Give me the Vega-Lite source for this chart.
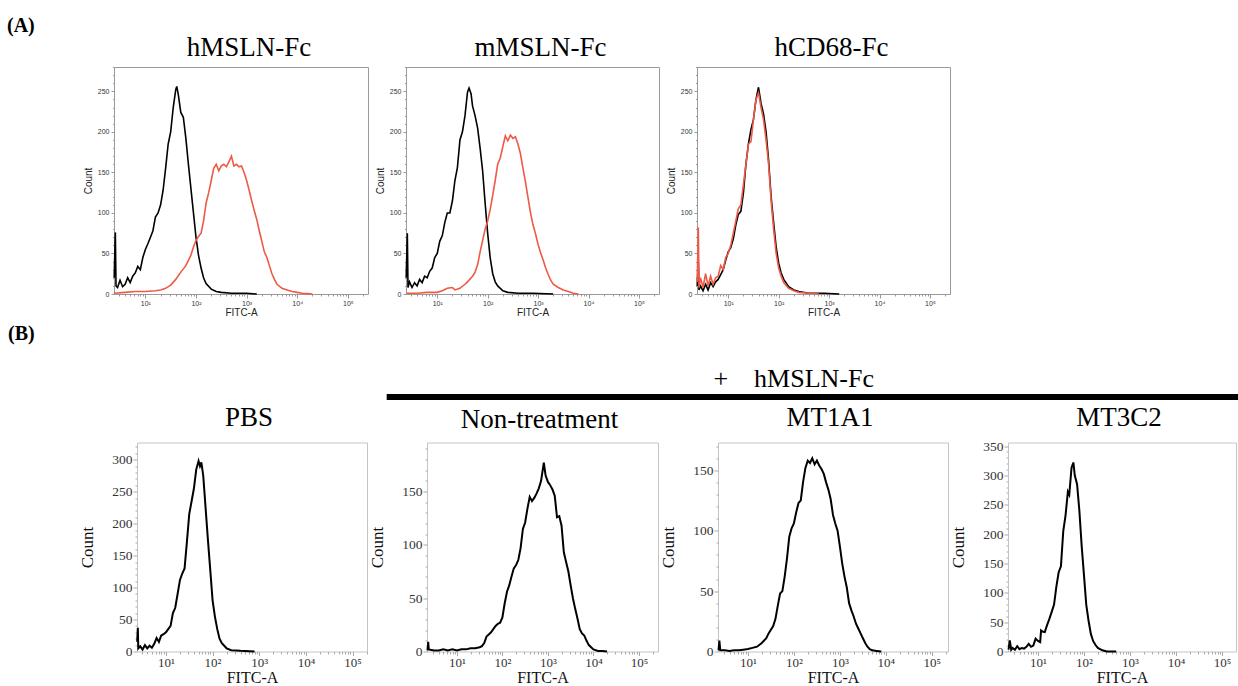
{
  "$schema": "https://vega.github.io/schema/vega-lite/v6.json",
  "background": "white",
  "padding": {"left": 7, "top": 15, "right": 0, "bottom": 0},
  "config": {
    "title": {"font": "Liberation Serif", "fontWeight": "normal", "color": "black"},
    "axis": {"grid": false, "domain": false}
  },
  "datasets": {
    "A1": [
      {"sample":"control","fitc":2.42,"count":20},{"sample":"control","fitc":2.55,"count":76},{"sample":"control","fitc":2.63,"count":10},{"sample":"control","fitc":2.82,"count":8},{"sample":"control","fitc":3.16,"count":17},{"sample":"control","fitc":3.55,"count":9},{"sample":"control","fitc":3.98,"count":12},{"sample":"control","fitc":4.47,"count":20},{"sample":"control","fitc":5.01,"count":14},{"sample":"control","fitc":5.62,"count":22},{"sample":"control","fitc":6.31,"count":26},{"sample":"control","fitc":7.08,"count":34},{"sample":"control","fitc":7.94,"count":30},{"sample":"control","fitc":8.91,"count":45},{"sample":"control","fitc":10,"count":55},{"sample":"control","fitc":11.2,"count":62},{"sample":"control","fitc":12.6,"count":70},{"sample":"control","fitc":14.1,"count":78},{"sample":"control","fitc":15.8,"count":95},{"sample":"control","fitc":17.8,"count":100},{"sample":"control","fitc":20,"count":110},{"sample":"control","fitc":22.4,"count":128},{"sample":"control","fitc":25.1,"count":155},{"sample":"control","fitc":28.2,"count":185},{"sample":"control","fitc":31.6,"count":200},{"sample":"control","fitc":35.5,"count":230},{"sample":"control","fitc":39.8,"count":252},{"sample":"control","fitc":41.7,"count":256},{"sample":"control","fitc":44.7,"count":246},{"sample":"control","fitc":50.1,"count":224},{"sample":"control","fitc":56.2,"count":218},{"sample":"control","fitc":63.1,"count":192},{"sample":"control","fitc":70.8,"count":160},{"sample":"control","fitc":79.4,"count":130},{"sample":"control","fitc":89.1,"count":100},{"sample":"control","fitc":100,"count":70},{"sample":"control","fitc":112,"count":48},{"sample":"control","fitc":126,"count":32},{"sample":"control","fitc":141,"count":20},{"sample":"control","fitc":158,"count":13},{"sample":"control","fitc":200,"count":6},{"sample":"control","fitc":251,"count":3},{"sample":"control","fitc":316,"count":2},{"sample":"control","fitc":501,"count":1},{"sample":"control","fitc":1000,"count":1},{"sample":"control","fitc":1585,"count":0},
      {"sample":"binding","fitc":2.42,"count":1},{"sample":"binding","fitc":3.98,"count":2},{"sample":"binding","fitc":6.31,"count":3},{"sample":"binding","fitc":10,"count":3},{"sample":"binding","fitc":15.8,"count":4},{"sample":"binding","fitc":20,"count":5},{"sample":"binding","fitc":25.1,"count":7},{"sample":"binding","fitc":31.6,"count":11},{"sample":"binding","fitc":39.8,"count":18},{"sample":"binding","fitc":50.1,"count":27},{"sample":"binding","fitc":63.1,"count":35},{"sample":"binding","fitc":79.4,"count":48},{"sample":"binding","fitc":89.1,"count":58},{"sample":"binding","fitc":100,"count":66},{"sample":"binding","fitc":112,"count":71},{"sample":"binding","fitc":126,"count":75},{"sample":"binding","fitc":141,"count":90},{"sample":"binding","fitc":158,"count":112},{"sample":"binding","fitc":178,"count":125},{"sample":"binding","fitc":200,"count":140},{"sample":"binding","fitc":224,"count":155},{"sample":"binding","fitc":251,"count":160},{"sample":"binding","fitc":282,"count":152},{"sample":"binding","fitc":316,"count":158},{"sample":"binding","fitc":355,"count":160},{"sample":"binding","fitc":398,"count":157},{"sample":"binding","fitc":447,"count":163},{"sample":"binding","fitc":501,"count":170},{"sample":"binding","fitc":562,"count":158},{"sample":"binding","fitc":631,"count":160},{"sample":"binding","fitc":708,"count":157},{"sample":"binding","fitc":794,"count":158},{"sample":"binding","fitc":891,"count":150},{"sample":"binding","fitc":1000,"count":140},{"sample":"binding","fitc":1122,"count":128},{"sample":"binding","fitc":1259,"count":115},{"sample":"binding","fitc":1413,"count":103},{"sample":"binding","fitc":1585,"count":92},{"sample":"binding","fitc":1778,"count":78},{"sample":"binding","fitc":1995,"count":65},{"sample":"binding","fitc":2239,"count":52},{"sample":"binding","fitc":2512,"count":45},{"sample":"binding","fitc":2818,"count":35},{"sample":"binding","fitc":3162,"count":25},{"sample":"binding","fitc":3548,"count":18},{"sample":"binding","fitc":3981,"count":12},{"sample":"binding","fitc":5012,"count":7},{"sample":"binding","fitc":6310,"count":5},{"sample":"binding","fitc":7943,"count":3},{"sample":"binding","fitc":10000,"count":2},{"sample":"binding","fitc":12589,"count":1},{"sample":"binding","fitc":15849,"count":0.5},{"sample":"binding","fitc":19953,"count":0}
    ],
    "A2": [
      {"sample":"control","fitc":2.42,"count":20},{"sample":"control","fitc":2.55,"count":75},{"sample":"control","fitc":2.63,"count":8},{"sample":"control","fitc":2.82,"count":15},{"sample":"control","fitc":3.16,"count":8},{"sample":"control","fitc":3.55,"count":14},{"sample":"control","fitc":3.98,"count":10},{"sample":"control","fitc":4.47,"count":18},{"sample":"control","fitc":5.01,"count":14},{"sample":"control","fitc":5.62,"count":22},{"sample":"control","fitc":6.31,"count":20},{"sample":"control","fitc":7.08,"count":28},{"sample":"control","fitc":7.94,"count":32},{"sample":"control","fitc":8.91,"count":45},{"sample":"control","fitc":10,"count":50},{"sample":"control","fitc":11.2,"count":65},{"sample":"control","fitc":12.6,"count":72},{"sample":"control","fitc":14.1,"count":88},{"sample":"control","fitc":15.8,"count":100},{"sample":"control","fitc":17.8,"count":100},{"sample":"control","fitc":20,"count":115},{"sample":"control","fitc":22.4,"count":140},{"sample":"control","fitc":25.1,"count":156},{"sample":"control","fitc":28.2,"count":190},{"sample":"control","fitc":31.6,"count":200},{"sample":"control","fitc":35.5,"count":220},{"sample":"control","fitc":39.8,"count":249},{"sample":"control","fitc":42.7,"count":254},{"sample":"control","fitc":46.8,"count":247},{"sample":"control","fitc":50.1,"count":232},{"sample":"control","fitc":56.2,"count":220},{"sample":"control","fitc":63.1,"count":205},{"sample":"control","fitc":70.8,"count":180},{"sample":"control","fitc":79.4,"count":152},{"sample":"control","fitc":89.1,"count":112},{"sample":"control","fitc":100,"count":75},{"sample":"control","fitc":112,"count":45},{"sample":"control","fitc":126,"count":25},{"sample":"control","fitc":141,"count":15},{"sample":"control","fitc":158,"count":10},{"sample":"control","fitc":200,"count":4},{"sample":"control","fitc":251,"count":2},{"sample":"control","fitc":398,"count":1},{"sample":"control","fitc":794,"count":1},{"sample":"control","fitc":1995,"count":0},
      {"sample":"binding","fitc":2.42,"count":1},{"sample":"binding","fitc":3.98,"count":1},{"sample":"binding","fitc":6.31,"count":2},{"sample":"binding","fitc":10,"count":2},{"sample":"binding","fitc":12.6,"count":4},{"sample":"binding","fitc":15.8,"count":7},{"sample":"binding","fitc":20,"count":8},{"sample":"binding","fitc":22.4,"count":5},{"sample":"binding","fitc":28.2,"count":7},{"sample":"binding","fitc":35.5,"count":12},{"sample":"binding","fitc":39.8,"count":15},{"sample":"binding","fitc":50.1,"count":22},{"sample":"binding","fitc":56.2,"count":27},{"sample":"binding","fitc":63.1,"count":36},{"sample":"binding","fitc":70.8,"count":52},{"sample":"binding","fitc":79.4,"count":66},{"sample":"binding","fitc":89.1,"count":80},{"sample":"binding","fitc":100,"count":90},{"sample":"binding","fitc":112,"count":104},{"sample":"binding","fitc":126,"count":122},{"sample":"binding","fitc":141,"count":140},{"sample":"binding","fitc":158,"count":160},{"sample":"binding","fitc":178,"count":168},{"sample":"binding","fitc":200,"count":182},{"sample":"binding","fitc":224,"count":195},{"sample":"binding","fitc":251,"count":189},{"sample":"binding","fitc":282,"count":196},{"sample":"binding","fitc":316,"count":192},{"sample":"binding","fitc":355,"count":194},{"sample":"binding","fitc":398,"count":185},{"sample":"binding","fitc":447,"count":173},{"sample":"binding","fitc":501,"count":155},{"sample":"binding","fitc":562,"count":138},{"sample":"binding","fitc":631,"count":119},{"sample":"binding","fitc":708,"count":100},{"sample":"binding","fitc":794,"count":85},{"sample":"binding","fitc":891,"count":74},{"sample":"binding","fitc":1000,"count":61},{"sample":"binding","fitc":1122,"count":51},{"sample":"binding","fitc":1259,"count":42},{"sample":"binding","fitc":1413,"count":32},{"sample":"binding","fitc":1585,"count":24},{"sample":"binding","fitc":1778,"count":17},{"sample":"binding","fitc":1995,"count":12},{"sample":"binding","fitc":2512,"count":8},{"sample":"binding","fitc":3162,"count":5},{"sample":"binding","fitc":3981,"count":3},{"sample":"binding","fitc":5012,"count":1},{"sample":"binding","fitc":6310,"count":0}
    ],
    "A3": [
      {"sample":"control","fitc":2.42,"count":10},{"sample":"control","fitc":2.55,"count":40},{"sample":"control","fitc":2.63,"count":5},{"sample":"control","fitc":2.82,"count":10},{"sample":"control","fitc":3.16,"count":4},{"sample":"control","fitc":3.55,"count":12},{"sample":"control","fitc":3.98,"count":5},{"sample":"control","fitc":4.47,"count":14},{"sample":"control","fitc":5.01,"count":9},{"sample":"control","fitc":5.62,"count":15},{"sample":"control","fitc":6.31,"count":18},{"sample":"control","fitc":7.08,"count":24},{"sample":"control","fitc":7.94,"count":30},{"sample":"control","fitc":8.91,"count":42},{"sample":"control","fitc":10,"count":52},{"sample":"control","fitc":11.2,"count":57},{"sample":"control","fitc":12.6,"count":68},{"sample":"control","fitc":14.1,"count":85},{"sample":"control","fitc":15.8,"count":98},{"sample":"control","fitc":17.8,"count":102},{"sample":"control","fitc":20,"count":125},{"sample":"control","fitc":22.4,"count":160},{"sample":"control","fitc":25.1,"count":185},{"sample":"control","fitc":28.2,"count":203},{"sample":"control","fitc":31.6,"count":215},{"sample":"control","fitc":35.5,"count":240},{"sample":"control","fitc":39.8,"count":255},{"sample":"control","fitc":44.7,"count":235},{"sample":"control","fitc":50.1,"count":222},{"sample":"control","fitc":56.2,"count":200},{"sample":"control","fitc":63.1,"count":165},{"sample":"control","fitc":70.8,"count":120},{"sample":"control","fitc":79.4,"count":88},{"sample":"control","fitc":89.1,"count":58},{"sample":"control","fitc":100,"count":38},{"sample":"control","fitc":112,"count":26},{"sample":"control","fitc":126,"count":18},{"sample":"control","fitc":158,"count":9},{"sample":"control","fitc":200,"count":5},{"sample":"control","fitc":251,"count":3},{"sample":"control","fitc":398,"count":1},{"sample":"control","fitc":794,"count":1},{"sample":"control","fitc":1585,"count":0},
      {"sample":"binding","fitc":2.42,"count":15},{"sample":"binding","fitc":2.55,"count":82},{"sample":"binding","fitc":2.63,"count":8},{"sample":"binding","fitc":2.82,"count":20},{"sample":"binding","fitc":3.16,"count":8},{"sample":"binding","fitc":3.55,"count":25},{"sample":"binding","fitc":3.98,"count":10},{"sample":"binding","fitc":4.47,"count":22},{"sample":"binding","fitc":5.01,"count":12},{"sample":"binding","fitc":5.62,"count":20},{"sample":"binding","fitc":6.31,"count":22},{"sample":"binding","fitc":7.08,"count":35},{"sample":"binding","fitc":7.94,"count":30},{"sample":"binding","fitc":8.91,"count":45},{"sample":"binding","fitc":10,"count":50},{"sample":"binding","fitc":11.2,"count":60},{"sample":"binding","fitc":12.6,"count":75},{"sample":"binding","fitc":14.1,"count":90},{"sample":"binding","fitc":15.8,"count":105},{"sample":"binding","fitc":17.8,"count":110},{"sample":"binding","fitc":20,"count":135},{"sample":"binding","fitc":22.4,"count":160},{"sample":"binding","fitc":25.1,"count":185},{"sample":"binding","fitc":28.2,"count":188},{"sample":"binding","fitc":31.6,"count":215},{"sample":"binding","fitc":35.5,"count":240},{"sample":"binding","fitc":39.8,"count":248},{"sample":"binding","fitc":44.7,"count":230},{"sample":"binding","fitc":50.1,"count":215},{"sample":"binding","fitc":56.2,"count":190},{"sample":"binding","fitc":63.1,"count":160},{"sample":"binding","fitc":70.8,"count":115},{"sample":"binding","fitc":79.4,"count":80},{"sample":"binding","fitc":89.1,"count":50},{"sample":"binding","fitc":100,"count":32},{"sample":"binding","fitc":112,"count":22},{"sample":"binding","fitc":126,"count":14},{"sample":"binding","fitc":158,"count":7},{"sample":"binding","fitc":200,"count":4},{"sample":"binding","fitc":251,"count":2},{"sample":"binding","fitc":398,"count":1},{"sample":"binding","fitc":631,"count":0}
    ],
    "B1": [
      {"fitc":2.42,"count":15},{"fitc":2.5,"count":37},{"fitc":2.56,"count":5},{"fitc":2.82,"count":8},{"fitc":3.16,"count":3},{"fitc":3.55,"count":10},{"fitc":3.98,"count":5},{"fitc":4.47,"count":9},{"fitc":5.01,"count":6},{"fitc":5.62,"count":12},{"fitc":6.31,"count":21},{"fitc":7.08,"count":15},{"fitc":7.94,"count":25},{"fitc":8.91,"count":27},{"fitc":10,"count":30},{"fitc":11.2,"count":35},{"fitc":12.6,"count":40},{"fitc":14.1,"count":60},{"fitc":15.8,"count":68},{"fitc":17.8,"count":90},{"fitc":20,"count":112},{"fitc":22.4,"count":122},{"fitc":25.1,"count":130},{"fitc":28.2,"count":172},{"fitc":31.6,"count":215},{"fitc":35.5,"count":235},{"fitc":39.8,"count":255},{"fitc":44.7,"count":285},{"fitc":50.1,"count":298},{"fitc":53.7,"count":290},{"fitc":57.5,"count":296},{"fitc":63.1,"count":275},{"fitc":70.8,"count":225},{"fitc":79.4,"count":175},{"fitc":89.1,"count":128},{"fitc":100,"count":80},{"fitc":112,"count":55},{"fitc":126,"count":35},{"fitc":141,"count":20},{"fitc":158,"count":13},{"fitc":200,"count":5},{"fitc":251,"count":2},{"fitc":398,"count":1},{"fitc":794,"count":0}
    ],
    "B2": [
      {"fitc":2.25,"count":1},{"fitc":2.34,"count":9},{"fitc":2.4,"count":2},{"fitc":3.16,"count":1},{"fitc":3.98,"count":1},{"fitc":5.01,"count":2},{"fitc":6.31,"count":1},{"fitc":7.94,"count":2},{"fitc":10,"count":1},{"fitc":12.6,"count":2},{"fitc":15.8,"count":2},{"fitc":20,"count":3},{"fitc":25.1,"count":3},{"fitc":31.6,"count":4},{"fitc":35.5,"count":5},{"fitc":39.8,"count":8},{"fitc":44.7,"count":14},{"fitc":50.1,"count":16},{"fitc":56.2,"count":18},{"fitc":63.1,"count":21},{"fitc":70.8,"count":24},{"fitc":79.4,"count":26},{"fitc":89.1,"count":27},{"fitc":100,"count":32},{"fitc":112,"count":45},{"fitc":126,"count":56},{"fitc":141,"count":62},{"fitc":158,"count":70},{"fitc":178,"count":78},{"fitc":200,"count":81},{"fitc":224,"count":86},{"fitc":251,"count":97},{"fitc":282,"count":115},{"fitc":316,"count":121},{"fitc":355,"count":134},{"fitc":398,"count":145},{"fitc":447,"count":141},{"fitc":501,"count":144},{"fitc":562,"count":148},{"fitc":631,"count":153},{"fitc":708,"count":160},{"fitc":813,"count":177},{"fitc":891,"count":165},{"fitc":1000,"count":159},{"fitc":1122,"count":156},{"fitc":1259,"count":152},{"fitc":1413,"count":146},{"fitc":1585,"count":126},{"fitc":1778,"count":127},{"fitc":1995,"count":118},{"fitc":2239,"count":93},{"fitc":2512,"count":84},{"fitc":2818,"count":75},{"fitc":3162,"count":62},{"fitc":3548,"count":50},{"fitc":3981,"count":40},{"fitc":4467,"count":31},{"fitc":5012,"count":21},{"fitc":5623,"count":17},{"fitc":6310,"count":15},{"fitc":7079,"count":10},{"fitc":7943,"count":6},{"fitc":8913,"count":4},{"fitc":10000,"count":2},{"fitc":12589,"count":0.5},{"fitc":15849,"count":0.5},{"fitc":19953,"count":0}
    ],
    "B3": [
      {"fitc":2.3,"count":1},{"fitc":2.4,"count":9},{"fitc":2.51,"count":1},{"fitc":3.16,"count":1},{"fitc":3.98,"count":0.5},{"fitc":5.01,"count":1},{"fitc":6.31,"count":1},{"fitc":7.94,"count":1.5},{"fitc":10,"count":2},{"fitc":12.6,"count":3},{"fitc":15.8,"count":4},{"fitc":20,"count":7},{"fitc":25.1,"count":11},{"fitc":28.2,"count":15},{"fitc":31.6,"count":18},{"fitc":35.5,"count":21},{"fitc":39.8,"count":27},{"fitc":44.7,"count":38},{"fitc":50.1,"count":48},{"fitc":56.2,"count":50},{"fitc":63.1,"count":62},{"fitc":70.8,"count":77},{"fitc":79.4,"count":95},{"fitc":89.1,"count":102},{"fitc":100,"count":106},{"fitc":112,"count":115},{"fitc":126,"count":123},{"fitc":141,"count":125},{"fitc":158,"count":140},{"fitc":178,"count":152},{"fitc":200,"count":158},{"fitc":224,"count":156},{"fitc":251,"count":160},{"fitc":282,"count":155},{"fitc":316,"count":158},{"fitc":355,"count":154},{"fitc":398,"count":151},{"fitc":447,"count":147},{"fitc":501,"count":140},{"fitc":562,"count":134},{"fitc":631,"count":126},{"fitc":708,"count":113},{"fitc":794,"count":106},{"fitc":891,"count":100},{"fitc":1000,"count":87},{"fitc":1122,"count":73},{"fitc":1259,"count":62},{"fitc":1413,"count":53},{"fitc":1585,"count":40},{"fitc":1778,"count":34},{"fitc":1995,"count":29},{"fitc":2239,"count":23},{"fitc":2512,"count":19},{"fitc":2818,"count":15},{"fitc":3162,"count":11},{"fitc":3548,"count":7},{"fitc":3981,"count":4},{"fitc":4467,"count":2},{"fitc":5012,"count":1},{"fitc":6310,"count":0.5},{"fitc":7943,"count":0}
    ],
    "B4": [
      {"fitc":2.3,"count":3},{"fitc":2.45,"count":19},{"fitc":2.63,"count":3},{"fitc":2.82,"count":6},{"fitc":3.16,"count":3},{"fitc":3.55,"count":9},{"fitc":3.98,"count":4},{"fitc":4.47,"count":6},{"fitc":5.01,"count":5},{"fitc":5.62,"count":8},{"fitc":6.31,"count":13},{"fitc":7.08,"count":8},{"fitc":7.94,"count":10},{"fitc":8.91,"count":22},{"fitc":10,"count":18},{"fitc":11.2,"count":16},{"fitc":11.7,"count":36},{"fitc":12.6,"count":34},{"fitc":14.1,"count":33},{"fitc":15.8,"count":45},{"fitc":17.8,"count":56},{"fitc":20,"count":68},{"fitc":22.4,"count":80},{"fitc":25.1,"count":110},{"fitc":28.2,"count":135},{"fitc":31.6,"count":145},{"fitc":35.5,"count":205},{"fitc":39.8,"count":232},{"fitc":44.7,"count":272},{"fitc":47.9,"count":267},{"fitc":53.7,"count":313},{"fitc":58.9,"count":322},{"fitc":63.1,"count":300},{"fitc":70.8,"count":285},{"fitc":79.4,"count":240},{"fitc":89.1,"count":180},{"fitc":100,"count":130},{"fitc":112,"count":80},{"fitc":126,"count":52},{"fitc":141,"count":30},{"fitc":158,"count":18},{"fitc":178,"count":11},{"fitc":200,"count":6},{"fitc":251,"count":2},{"fitc":316,"count":0},{"fitc":501,"count":0}
    ]
  },
  "spacing": 6,
  "vconcat": [
    {
      "title": {"text": "(A)", "anchor": "start", "fontSize": 20, "fontWeight": "bold", "dx": -68, "offset": -2.5},
      "spacing": 38,
      "bounds": "flush",
      "hconcat": [
        {
          "width": 1, "height": 1,
          "view": {"stroke": null},
          "data": {"values": []},
          "mark": {"type": "point", "opacity": 0},
          "encoding": {}
        },
        {
          "width": 254, "height": 227,
          "view": {"stroke": "#9a9a9a"},
          "title": {"text": "hMSLN-Fc", "fontSize": 27, "frame": "group", "dx": 8, "offset": 1.5},
          "data": {"name": "A1"},
          "mark": {"type": "line", "strokeWidth": 1.6},
          "encoding": {
            "x": {"field": "fitc", "type": "quantitative", "scale": {"type": "log", "domain": [2.4, 250000], "nice": false},
              "axis": {"title": "FITC-A", "values": [3,4,5,6,7,8,9,10,20,30,40,50,60,70,80,90,100,200,300,400,500,600,700,800,900,1000,2000,3000,4000,5000,6000,7000,8000,9000,10000,20000,30000,40000,50000,60000,70000,80000,90000,100000,200000],
                "labelExpr": "datum.value == 10 ? '10\u00b9' : datum.value == 100 ? '10\u00b2' : datum.value == 1000 ? '10\u00b3' : datum.value == 10000 ? '10\u2074' : datum.value == 100000 ? '10\u2075' : ''",
                "labelOverlap": false, "labelFlush": false, "labelFont": "Liberation Sans", "labelFontSize": 7, "labelColor": "#333333", "labelPadding": 1,
                "tickColor": "#999999", "tickSize": {"condition": {"test": "indexof([10,100,1000,10000,100000], datum.value) >= 0", "value": 4}, "value": 2},
                "titleFont": "Liberation Sans", "titleFontSize": 10, "titleFontWeight": "normal", "titleColor": "#222222", "titlePadding": 1}},
            "y": {"field": "count", "type": "quantitative", "scale": {"domain": [0, 280], "nice": false},
              "axis": {"title": "Count", "values": [0,10,20,30,40,50,60,70,80,90,100,110,120,130,140,150,160,170,180,190,200,210,220,230,240,250,260,270,280],
                "labelExpr": "datum.value % 50 == 0 ? datum.label : ''", "labelOverlap": false, "labelFont": "Liberation Sans", "labelFontSize": 7, "labelColor": "#333333", "labelPadding": 2,
                "tickColor": "#999999", "tickSize": {"condition": {"test": "datum.value % 50 == 0", "value": 3}, "value": 1.5},
                "titleFont": "Liberation Sans", "titleFontSize": 10, "titleFontWeight": "normal", "titleColor": "#222222", "titlePadding": 4}},
            "color": {"field": "sample", "type": "nominal", "scale": {"domain": ["control", "binding"], "range": ["#000000", "#ee5a45"]}, "legend": null}
          }
        },
        {
          "width": 253, "height": 227,
          "view": {"stroke": "#9a9a9a"},
          "title": {"text": "mMSLN-Fc", "fontSize": 27, "frame": "group", "dx": 8, "offset": 1.5},
          "data": {"name": "A2"},
          "mark": {"type": "line", "strokeWidth": 1.6},
          "encoding": {
            "x": {"field": "fitc", "type": "quantitative", "scale": {"type": "log", "domain": [2.4, 250000], "nice": false},
              "axis": {"title": "FITC-A", "values": [3,4,5,6,7,8,9,10,20,30,40,50,60,70,80,90,100,200,300,400,500,600,700,800,900,1000,2000,3000,4000,5000,6000,7000,8000,9000,10000,20000,30000,40000,50000,60000,70000,80000,90000,100000,200000],
                "labelExpr": "datum.value == 10 ? '10\u00b9' : datum.value == 100 ? '10\u00b2' : datum.value == 1000 ? '10\u00b3' : datum.value == 10000 ? '10\u2074' : datum.value == 100000 ? '10\u2075' : ''",
                "labelOverlap": false, "labelFlush": false, "labelFont": "Liberation Sans", "labelFontSize": 7, "labelColor": "#333333", "labelPadding": 1,
                "tickColor": "#999999", "tickSize": {"condition": {"test": "indexof([10,100,1000,10000,100000], datum.value) >= 0", "value": 4}, "value": 2},
                "titleFont": "Liberation Sans", "titleFontSize": 10, "titleFontWeight": "normal", "titleColor": "#222222", "titlePadding": 1}},
            "y": {"field": "count", "type": "quantitative", "scale": {"domain": [0, 280], "nice": false},
              "axis": {"title": "Count", "values": [0,10,20,30,40,50,60,70,80,90,100,110,120,130,140,150,160,170,180,190,200,210,220,230,240,250,260,270,280],
                "labelExpr": "datum.value % 50 == 0 ? datum.label : ''", "labelOverlap": false, "labelFont": "Liberation Sans", "labelFontSize": 7, "labelColor": "#333333", "labelPadding": 2,
                "tickColor": "#999999", "tickSize": {"condition": {"test": "datum.value % 50 == 0", "value": 3}, "value": 1.5},
                "titleFont": "Liberation Sans", "titleFontSize": 10, "titleFontWeight": "normal", "titleColor": "#222222", "titlePadding": 4}},
            "color": {"field": "sample", "type": "nominal", "scale": {"domain": ["control", "binding"], "range": ["#000000", "#ee5a45"]}, "legend": null}
          }
        },
        {
          "width": 253, "height": 227,
          "view": {"stroke": "#9a9a9a"},
          "title": {"text": "hCD68-Fc", "fontSize": 27, "frame": "group", "dx": 8, "offset": 1.5},
          "data": {"name": "A3"},
          "mark": {"type": "line", "strokeWidth": 1.6},
          "encoding": {
            "x": {"field": "fitc", "type": "quantitative", "scale": {"type": "log", "domain": [2.4, 250000], "nice": false},
              "axis": {"title": "FITC-A", "values": [3,4,5,6,7,8,9,10,20,30,40,50,60,70,80,90,100,200,300,400,500,600,700,800,900,1000,2000,3000,4000,5000,6000,7000,8000,9000,10000,20000,30000,40000,50000,60000,70000,80000,90000,100000,200000],
                "labelExpr": "datum.value == 10 ? '10\u00b9' : datum.value == 100 ? '10\u00b2' : datum.value == 1000 ? '10\u00b3' : datum.value == 10000 ? '10\u2074' : datum.value == 100000 ? '10\u2075' : ''",
                "labelOverlap": false, "labelFlush": false, "labelFont": "Liberation Sans", "labelFontSize": 7, "labelColor": "#333333", "labelPadding": 1,
                "tickColor": "#999999", "tickSize": {"condition": {"test": "indexof([10,100,1000,10000,100000], datum.value) >= 0", "value": 4}, "value": 2},
                "titleFont": "Liberation Sans", "titleFontSize": 10, "titleFontWeight": "normal", "titleColor": "#222222", "titlePadding": 1}},
            "y": {"field": "count", "type": "quantitative", "scale": {"domain": [0, 280], "nice": false},
              "axis": {"title": "Count", "values": [0,10,20,30,40,50,60,70,80,90,100,110,120,130,140,150,160,170,180,190,200,210,220,230,240,250,260,270,280],
                "labelExpr": "datum.value % 50 == 0 ? datum.label : ''", "labelOverlap": false, "labelFont": "Liberation Sans", "labelFontSize": 7, "labelColor": "#333333", "labelPadding": 2,
                "tickColor": "#999999", "tickSize": {"condition": {"test": "datum.value % 50 == 0", "value": 3}, "value": 1.5},
                "titleFont": "Liberation Sans", "titleFontSize": 10, "titleFontWeight": "normal", "titleColor": "#222222", "titlePadding": 4}},
            "color": {"field": "sample", "type": "nominal", "scale": {"domain": ["control", "binding"], "range": ["#000000", "#ee5a45"]}, "legend": null}
          }
        }
      ]
    },
    {
      "title": {"text": "(B)", "anchor": "start", "fontSize": 20, "fontWeight": "bold", "dx": -67, "offset": 13},
      "spacing": 2.5,
      "vconcat": [
        {
          "width": 1163, "height": 40,
          "view": {"stroke": null},
          "data": {"values": [{"label": "+\u2003hMSLN-Fc"}]},
          "layer": [
            {
              "mark": {"type": "rule", "strokeWidth": 6, "color": "black"},
              "encoding": {
                "x": {"datum": 0.268, "type": "quantitative", "scale": {"domain": [0, 1], "nice": false, "zero": false}, "axis": null},
                "x2": {"datum": 1},
                "y": {"datum": 0, "type": "quantitative", "scale": {"domain": [0, 1], "nice": false}, "axis": null}
              }
            },
            {
              "mark": {"type": "text", "font": "Liberation Serif", "fontSize": 26, "baseline": "alphabetic", "align": "center", "color": "black"},
              "encoding": {
                "text": {"field": "label", "type": "nominal"},
                "x": {"datum": 0.618, "type": "quantitative"},
                "y": {"datum": 0.25, "type": "quantitative"}
              }
            }
          ]
        },
        {
          "spacing": 60,
          "bounds": "flush",
          "hconcat": [
            {
              "width": 2, "height": 1,
              "view": {"stroke": null},
              "data": {"values": []},
              "mark": {"type": "point", "opacity": 0},
              "encoding": {}
            },
            {
              "width": 230, "height": 209,
              "view": {"stroke": "#c4c4c4"},
              "title": {"text": "PBS", "fontSize": 27, "frame": "group", "dx": -3, "offset": 7.5},
              "data": {"name": "B1"},
              "mark": {"type": "line", "strokeWidth": 2, "color": "black"},
              "encoding": {
                "x": {"field": "fitc", "type": "quantitative", "scale": {"type": "log", "domain": [2.4, 204000], "nice": false},
                  "axis": {"title": "FITC-A", "values": [3,4,5,6,7,8,9,10,20,30,40,50,60,70,80,90,100,200,300,400,500,600,700,800,900,1000,2000,3000,4000,5000,6000,7000,8000,9000,10000,20000,30000,40000,50000,60000,70000,80000,90000,100000,200000],
                    "labelExpr": "datum.value == 10 ? '10\u00b9' : datum.value == 100 ? '10\u00b2' : datum.value == 1000 ? '10\u00b3' : datum.value == 10000 ? '10\u2074' : datum.value == 100000 ? '10\u2075' : ''",
                    "labelOverlap": false, "labelFlush": false, "labelFont": "Liberation Serif", "labelFontSize": 13, "labelColor": "#333333", "labelPadding": 1,
                    "tickColor": "#aaaaaa", "tickSize": {"condition": {"test": "indexof([10,100,1000,10000,100000], datum.value) >= 0", "value": 4}, "value": 2.5},
                    "titleFont": "Liberation Serif", "titleFontSize": 16, "titleFontWeight": "normal", "titleColor": "#111111", "titlePadding": 0}},
                "y": {"field": "count", "type": "quantitative", "scale": {"domain": [0, 327], "nice": false},
                  "axis": {"title": "Count", "values": [0,10,20,30,40,50,60,70,80,90,100,110,120,130,140,150,160,170,180,190,200,210,220,230,240,250,260,270,280,290,300,310,320],
                    "labelExpr": "datum.value % 50 == 0 ? datum.label : ''", "labelOverlap": false, "labelFont": "Liberation Serif", "labelFontSize": 13.5, "labelColor": "#333333", "labelPadding": 1,
                    "tickColor": "#aaaaaa", "tickSize": {"condition": {"test": "datum.value % 50 == 0", "value": 4}, "value": 2},
                    "titleFont": "Liberation Serif", "titleFontSize": 17, "titleFontWeight": "normal", "titleColor": "#111111", "titlePadding": 15}}
              }
            },
            {
              "width": 231, "height": 209,
              "view": {"stroke": "#c4c4c4"},
              "title": {"text": "Non-treatment", "fontSize": 27, "frame": "group", "dx": -3, "offset": 7.5},
              "data": {"name": "B2"},
              "mark": {"type": "line", "strokeWidth": 2, "color": "black"},
              "encoding": {
                "x": {"field": "fitc", "type": "quantitative", "scale": {"type": "log", "domain": [2.2, 263000], "nice": false},
                  "axis": {"title": "FITC-A", "values": [3,4,5,6,7,8,9,10,20,30,40,50,60,70,80,90,100,200,300,400,500,600,700,800,900,1000,2000,3000,4000,5000,6000,7000,8000,9000,10000,20000,30000,40000,50000,60000,70000,80000,90000,100000,200000],
                    "labelExpr": "datum.value == 10 ? '10\u00b9' : datum.value == 100 ? '10\u00b2' : datum.value == 1000 ? '10\u00b3' : datum.value == 10000 ? '10\u2074' : datum.value == 100000 ? '10\u2075' : ''",
                    "labelOverlap": false, "labelFlush": false, "labelFont": "Liberation Serif", "labelFontSize": 13, "labelColor": "#333333", "labelPadding": 1,
                    "tickColor": "#aaaaaa", "tickSize": {"condition": {"test": "indexof([10,100,1000,10000,100000], datum.value) >= 0", "value": 4}, "value": 2.5},
                    "titleFont": "Liberation Serif", "titleFontSize": 16, "titleFontWeight": "normal", "titleColor": "#111111", "titlePadding": 0}},
                "y": {"field": "count", "type": "quantitative", "scale": {"domain": [0, 196], "nice": false},
                  "axis": {"title": "Count", "values": [0,10,20,30,40,50,60,70,80,90,100,110,120,130,140,150,160,170,180,190],
                    "labelExpr": "datum.value % 50 == 0 ? datum.label : ''", "labelOverlap": false, "labelFont": "Liberation Serif", "labelFontSize": 13.5, "labelColor": "#333333", "labelPadding": 1,
                    "tickColor": "#aaaaaa", "tickSize": {"condition": {"test": "datum.value % 50 == 0", "value": 4}, "value": 2},
                    "titleFont": "Liberation Serif", "titleFontSize": 17, "titleFontWeight": "normal", "titleColor": "#111111", "titlePadding": 15}}
              }
            },
            {
              "width": 230, "height": 209,
              "view": {"stroke": "#c4c4c4"},
              "title": {"text": "MT1A1", "fontSize": 27, "frame": "group", "dx": -3, "offset": 7.5},
              "data": {"name": "B3"},
              "mark": {"type": "line", "strokeWidth": 2, "color": "black"},
              "encoding": {
                "x": {"field": "fitc", "type": "quantitative", "scale": {"type": "log", "domain": [2.24, 224000], "nice": false},
                  "axis": {"title": "FITC-A", "values": [3,4,5,6,7,8,9,10,20,30,40,50,60,70,80,90,100,200,300,400,500,600,700,800,900,1000,2000,3000,4000,5000,6000,7000,8000,9000,10000,20000,30000,40000,50000,60000,70000,80000,90000,100000,200000],
                    "labelExpr": "datum.value == 10 ? '10\u00b9' : datum.value == 100 ? '10\u00b2' : datum.value == 1000 ? '10\u00b3' : datum.value == 10000 ? '10\u2074' : datum.value == 100000 ? '10\u2075' : ''",
                    "labelOverlap": false, "labelFlush": false, "labelFont": "Liberation Serif", "labelFontSize": 13, "labelColor": "#333333", "labelPadding": 1,
                    "tickColor": "#aaaaaa", "tickSize": {"condition": {"test": "indexof([10,100,1000,10000,100000], datum.value) >= 0", "value": 4}, "value": 2.5},
                    "titleFont": "Liberation Serif", "titleFontSize": 16, "titleFontWeight": "normal", "titleColor": "#111111", "titlePadding": 0}},
                "y": {"field": "count", "type": "quantitative", "scale": {"domain": [0, 173], "nice": false},
                  "axis": {"title": "Count", "values": [0,10,20,30,40,50,60,70,80,90,100,110,120,130,140,150,160,170],
                    "labelExpr": "datum.value % 50 == 0 ? datum.label : ''", "labelOverlap": false, "labelFont": "Liberation Serif", "labelFontSize": 13.5, "labelColor": "#333333", "labelPadding": 1,
                    "tickColor": "#aaaaaa", "tickSize": {"condition": {"test": "datum.value % 50 == 0", "value": 4}, "value": 2},
                    "titleFont": "Liberation Serif", "titleFontSize": 17, "titleFontWeight": "normal", "titleColor": "#111111", "titlePadding": 15}}
              }
            },
            {
              "width": 228, "height": 209,
              "view": {"stroke": "#c4c4c4"},
              "title": {"text": "MT3C2", "fontSize": 27, "frame": "group", "dx": -3, "offset": 7.5},
              "data": {"name": "B4"},
              "mark": {"type": "line", "strokeWidth": 2, "color": "black"},
              "encoding": {
                "x": {"field": "fitc", "type": "quantitative", "scale": {"type": "log", "domain": [2.24, 200000], "nice": false},
                  "axis": {"title": "FITC-A", "values": [3,4,5,6,7,8,9,10,20,30,40,50,60,70,80,90,100,200,300,400,500,600,700,800,900,1000,2000,3000,4000,5000,6000,7000,8000,9000,10000,20000,30000,40000,50000,60000,70000,80000,90000,100000],
                    "labelExpr": "datum.value == 10 ? '10\u00b9' : datum.value == 100 ? '10\u00b2' : datum.value == 1000 ? '10\u00b3' : datum.value == 10000 ? '10\u2074' : datum.value == 100000 ? '10\u2075' : ''",
                    "labelOverlap": false, "labelFlush": false, "labelFont": "Liberation Serif", "labelFontSize": 13, "labelColor": "#333333", "labelPadding": 1,
                    "tickColor": "#aaaaaa", "tickSize": {"condition": {"test": "indexof([10,100,1000,10000,100000], datum.value) >= 0", "value": 4}, "value": 2.5},
                    "titleFont": "Liberation Serif", "titleFontSize": 16, "titleFontWeight": "normal", "titleColor": "#111111", "titlePadding": 0}},
                "y": {"field": "count", "type": "quantitative", "scale": {"domain": [0, 356], "nice": false},
                  "axis": {"title": "Count", "values": [0,10,20,30,40,50,60,70,80,90,100,110,120,130,140,150,160,170,180,190,200,210,220,230,240,250,260,270,280,290,300,310,320,330,340,350],
                    "labelExpr": "datum.value % 50 == 0 ? datum.label : ''", "labelOverlap": false, "labelFont": "Liberation Serif", "labelFontSize": 13.5, "labelColor": "#333333", "labelPadding": 1,
                    "tickColor": "#aaaaaa", "tickSize": {"condition": {"test": "datum.value % 50 == 0", "value": 4}, "value": 2},
                    "titleFont": "Liberation Serif", "titleFontSize": 17, "titleFontWeight": "normal", "titleColor": "#111111", "titlePadding": 15}}
              }
            }
          ]
        }
      ]
    }
  ]
}
